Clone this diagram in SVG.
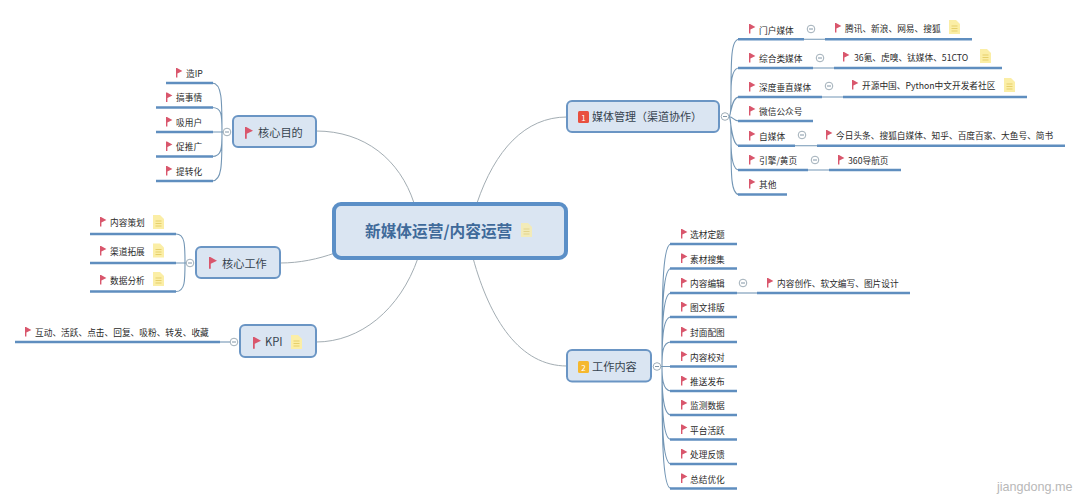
<svg xmlns="http://www.w3.org/2000/svg" xmlns:xlink="http://www.w3.org/1999/xlink" width="1080" height="503" viewBox="0 0 1080 503">
<style>
text{font-family:"Noto Sans CJK SC","Noto Sans",sans-serif;fill:#2a2a2a}
.t{font-size:8.7px}
.m{font-size:11.2px;fill:#36434f}
.c{font-size:15.7px;font-weight:700;fill:#3f6a9a}
.u{stroke:#5f8ebf;stroke-width:2.4;fill:none}
.box{fill:#dae5f2;stroke:#6a95c4;stroke-width:2}
.k{fill:none;stroke:#a3adb3;stroke-width:1}
.s{fill:none;stroke:#7396b5;stroke-width:1.1}
.col{fill:#fff;stroke:#a0aeb8;stroke-width:1}
.dash{stroke:#8296a6;stroke-width:1}
</style>
<defs>
<path id="flag" d="M0 0H1L6.4 2.9L1.4 5.4V9.4H0Z" fill="#d9566c"/>
<g id="note"><path d="M0 0H7L11 4V14H0Z" fill="#fbeea6"/><path d="M2.5 6H8.5M2.5 8.5H8.5M2.5 11H8.5" stroke="#e6cf6a" stroke-width="1"/></g>
<g id="col"><circle r="3.8" class="col"/><path d="M-2 0H2" class="dash"/></g>
</defs>
<rect width="1080" height="503" fill="#fff"/>
<g id="connectors">
<path class="k" d="M316 131C365 131 400 160 414 203"/>
<path class="k" d="M280 263C300 263 318 259 335 253"/>
<path class="k" d="M316 342C360 342 400 310 418 258"/>
<path class="k" d="M477 203C495 150 525 117 567 117"/>
<path class="k" d="M473 258C490 320 520 366 567 366"/>
<path class="s" d="M223 132H212M222 132C222 100 222 83 212 83M222 132C222 115 222 107.500 212 107.500M222 132C222 148 222 156.500 212 156.500M222 132C222 165 222 181 212 181"/>
<path class="s" d="M186 263H176M185 263C185 245 185 234 176 234M185 263C185 281 185 291.500 176 291.500"/>
<path class="s" d="M230 342H220"/>
<path class="s" d="M729 116.500C731 116.500 731 105 731 95C731 60 731 39.300 739 39.300M729 116.500C731 116.500 731 105 731 92C731 78 733 68 739 68M729 116.500C731 116.500 731 97 739 97M729 116.500C733 116.500 733 121 739 121M729 116.500C731 116.500 731 145.700 739 145.700M729 116.500C731 116.500 731 128 731 140C731 158 733 170 739 170M729 116.500C731 116.500 731 128 731 140C731 175 731 194.500 739 194.500"/>
<path class="s" d="M804 39.300H825M813 68H834M822 97H843M795 145.700H817M808 170H829"/>
<path class="s" d="M653 366.500H670M662 366.500C662 300 662 244 671 244M662 366.500C662 320 662 268.500 671 268.500M662 366.500C662 335 662 293 671 293M662 366.500C662 345 662 317 671 317M662 366.500C662 355 662 342 671 342M662 366.500C662 375 662 391 671 391M662 366.500C662 385 662 415 671 415M662 366.500C662 400 662 439.500 671 439.500M662 366.500C662 420 662 464 671 464M662 366.500C662 430 662 488.500 671 488.500"/>
<path class="s" d="M737 293H757"/>
</g>

<g id="central"><rect x="334" y="204" width="232" height="54" rx="7" fill="#dae5f2" stroke="#5b8fc7" stroke-width="4"/><text class="c" x="365" y="237">新媒体运营/内容运营</text><use href="#note" transform="translate(521 223)" opacity=".75"/></g>

<g id="n-hexin-mudi"><rect class="box" x="233" y="116" width="83" height="31" rx="5"/><use href="#flag" transform="translate(245 127) scale(1.25)"/><text class="m" x="258" y="136.500">核心目的</text><use href="#col" x="227" y="132"/></g>
<g id="n-zao"><use href="#flag" x="176" y="68"/><text class="t" x="186" y="77">造IP</text><path class="u" d="M166 83H213"/></g>
<g id="n-gao"><use href="#flag" x="166" y="92.500"/><text class="t" x="176" y="101">搞事情</text><path class="u" d="M156 107.500H213"/></g>
<g id="n-xi"><use href="#flag" x="166" y="117"/><text class="t" x="176" y="125.500">吸用户</text><path class="u" d="M156 132H213"/></g>
<g id="n-cu"><use href="#flag" x="166" y="141.500"/><text class="t" x="176" y="150">促推广</text><path class="u" d="M156 156.500H213"/></g>
<g id="n-ti"><use href="#flag" x="166" y="166"/><text class="t" x="176" y="174.500">提转化</text><path class="u" d="M156 181H213"/></g>

<g id="n-hexin-gongzuo"><rect class="box" x="196" y="247" width="84" height="31" rx="5"/><use href="#flag" transform="translate(209 257) scale(1.25)"/><text class="m" x="222" y="267.500">核心工作</text><use href="#col" x="190" y="263"/></g>
<g id="n-neirong-cehua"><use href="#flag" x="100" y="217"/><text class="t" x="110" y="226">内容策划</text><use href="#note" x="153" y="215"/><path class="u" d="M90 234H176"/></g>
<g id="n-qudao"><use href="#flag" x="100" y="246"/><text class="t" x="110" y="255">渠道拓展</text><use href="#note" x="153" y="243.500"/><path class="u" d="M90 263H176"/></g>
<g id="n-shuju"><use href="#flag" x="100" y="275"/><text class="t" x="110" y="284">数据分析</text><use href="#note" x="153" y="272"/><path class="u" d="M90 291.500H176"/></g>

<g id="n-kpi"><rect class="box" x="240" y="325" width="76" height="32" rx="5"/><use href="#flag" transform="translate(253 337) scale(1.25)"/><text class="m" x="265" y="346">KPI</text><use href="#note" x="291" y="335"/><use href="#col" x="234" y="342"/></g>
<g id="n-kpi-list"><use href="#flag" x="25" y="327"/><text class="t" x="35" y="336">互动、活跃、点击、回复、吸粉、转发、收藏</text><path class="u" d="M15 342H220"/></g>

<g id="n-meiti"><rect class="box" x="567" y="101" width="152" height="31" rx="5"/><rect x="578" y="111" width="11" height="12" rx="1.500" fill="#e8503f"/><text x="583.500" y="120.500" text-anchor="middle" style="font-size:8px;fill:#fff">1</text><text class="m" x="592" y="121" style="font-size:11px">媒体管理（渠道协作）</text><use href="#col" x="725" y="116.500"/></g>
<g id="n-menhu"><use href="#flag" x="749" y="24"/><text class="t" x="759" y="33.500">门户媒体</text><path class="u" d="M738 39.300H804"/><use href="#col" x="811" y="29"/></g>
<g id="n-menhu-c"><use href="#flag" x="835" y="23"/><text class="t" x="845" y="32">腾讯、新浪、网易、搜狐</text><use href="#note" x="949" y="20"/><path class="u" d="M825 39.300H972"/></g>
<g id="n-zonghe"><use href="#flag" x="749" y="53"/><text class="t" x="759" y="62">综合类媒体</text><path class="u" d="M738 68H813"/><use href="#col" x="820" y="58"/></g>
<g id="n-zonghe-c"><use href="#flag" x="843" y="52"/><text class="t" x="854" y="60.500">36氪、虎嗅、钛媒体、51CTO</text><use href="#note" x="980" y="49"/><path class="u" d="M834 68H1002"/></g>
<g id="n-shendu"><use href="#flag" x="749" y="82"/><text class="t" x="759" y="91">深度垂直媒体</text><path class="u" d="M738 97H822"/><use href="#col" x="829" y="86"/></g>
<g id="n-shendu-c"><use href="#flag" x="852" y="80"/><text class="t" x="862" y="89">开源中国、Python中文开发者社区</text><use href="#note" x="1004" y="78"/><path class="u" d="M843 97H1027"/></g>
<g id="n-weixin"><use href="#flag" x="749" y="106"/><text class="t" x="759" y="115">微信公众号</text><path class="u" d="M738 121H813"/></g>
<g id="n-zimeiti"><use href="#flag" x="749" y="131"/><text class="t" x="759" y="139.500">自媒体</text><path class="u" d="M738 145.700H795"/><use href="#col" x="802" y="135"/></g>
<g id="n-zimeiti-c"><use href="#flag" x="826" y="130"/><text class="t" x="836" y="139">今日头条、搜狐自媒体、知乎、百度百家、大鱼号、简书</text><path class="u" d="M817 145.700H1065"/></g>
<g id="n-yinqing"><use href="#flag" x="749" y="155"/><text class="t" x="759" y="164">引擎/黄页</text><path class="u" d="M738 170H808"/><use href="#col" x="815" y="160"/></g>
<g id="n-yinqing-c"><use href="#flag" x="838" y="155"/><text class="t" x="848" y="164">360导航页</text><path class="u" d="M829 170H901"/></g>
<g id="n-qita"><use href="#flag" x="749" y="179"/><text class="t" x="759" y="188">其他</text><path class="u" d="M738 194.500H787"/></g>

<g id="n-gongzuo"><rect class="box" x="567" y="350" width="84" height="31.500" rx="5"/><rect x="578" y="361" width="11" height="12" rx="1.500" fill="#f5b82e"/><text x="583.500" y="370.500" text-anchor="middle" style="font-size:8px;fill:#fff">2</text><text class="m" x="592" y="371">工作内容</text><use href="#col" x="657" y="366.500"/></g>
<g id="n-xuancai"><use href="#flag" x="681" y="229"/><text class="t" x="690" y="238">选材定题</text><path class="u" d="M670 244H737"/></g>
<g id="n-sucai"><use href="#flag" x="681" y="253.500"/><text class="t" x="690" y="262.500">素材搜集</text><path class="u" d="M670 268.500H737"/></g>
<g id="n-bianji"><use href="#flag" x="681" y="278"/><text class="t" x="690" y="287">内容编辑</text><path class="u" d="M670 293H737"/><use href="#col" x="743" y="283"/></g>
<g id="n-bianji-c"><use href="#flag" x="767" y="278"/><text class="t" x="777" y="287">内容创作、软文编写、图片设计</text><path class="u" d="M757 293H910"/></g>
<g id="n-tuwen"><use href="#flag" x="681" y="302"/><text class="t" x="690" y="311">图文排版</text><path class="u" d="M670 317H737"/></g>
<g id="n-fengmian"><use href="#flag" x="681" y="327"/><text class="t" x="690" y="336">封面配图</text><path class="u" d="M670 342H737"/></g>
<g id="n-jiaodui"><use href="#flag" x="681" y="351.500"/><text class="t" x="690" y="360.500">内容校对</text><path class="u" d="M670 366.500H737"/></g>
<g id="n-tuisong"><use href="#flag" x="681" y="376"/><text class="t" x="690" y="385">推送发布</text><path class="u" d="M670 391H737"/></g>
<g id="n-jiance"><use href="#flag" x="681" y="400"/><text class="t" x="690" y="409">监测数据</text><path class="u" d="M670 415H737"/></g>
<g id="n-huoyue"><use href="#flag" x="681" y="424.500"/><text class="t" x="690" y="433.500">平台活跃</text><path class="u" d="M670 439.500H737"/></g>
<g id="n-fankui"><use href="#flag" x="681" y="449"/><text class="t" x="690" y="458">处理反馈</text><path class="u" d="M670 464H737"/></g>
<g id="n-zongjie"><use href="#flag" x="681" y="473.500"/><text class="t" x="690" y="482.500">总结优化</text><path class="u" d="M670 488.500H737"/></g>
<text x="997" y="491" style="font-family:'Liberation Sans',sans-serif;font-size:12.600px;fill:#b8b8b8">jiangdong.me</text>
</svg>
